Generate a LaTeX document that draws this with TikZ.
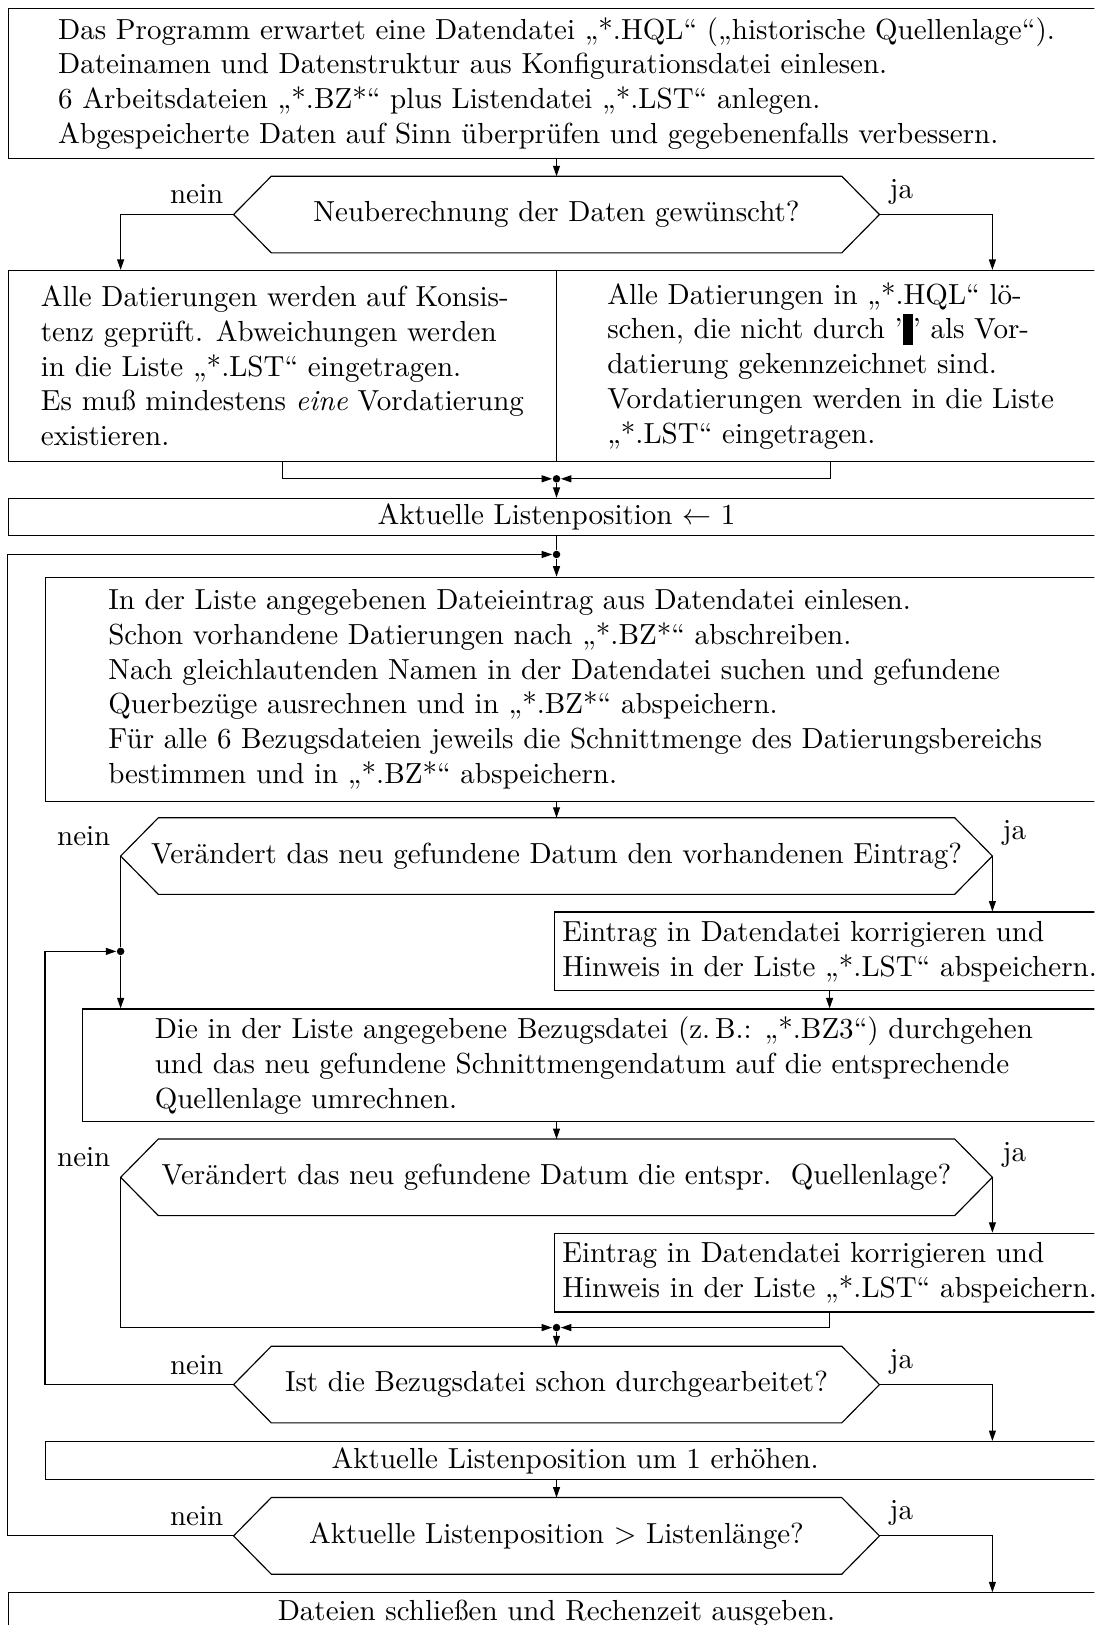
\documentclass[tikz,border=0pt]{standalone}
\usepackage{tikz}
\usetikzlibrary{arrows.meta}

\tikzset{
  kasten/.style={draw, rectangle, inner sep=0pt, align=left},
  frage/.style={rectangle, minimum height=26pt, inner ysep=0pt, inner xsep=-20pt},
  punkt/.style={circle, fill, inner sep=0pt, minimum size=2.6pt},
  pfeil/.style={-{Triangle[length=3.6pt,width=2.4pt]}}
}

\begin{document}
\begin{tikzpicture}[x=0.357pt, y=-0.357pt]

                \useasboundingbox (0,0) rectangle (1056,1568);
                \clip (0,0) rectangle (1056,1568);

                \node[kasten, minimum width=377.7pt, minimum height=51.8pt] (top) at (537,80.5)
                  {Das Programm erwartet eine Datendatei „*.HQL“ („historische Quellenlage“).\\
                   Dateinamen und Datenstruktur aus Konfigurationsdatei einlesen.\\
                   6 Arbeitsdateien „*.BZ*“ plus Listendatei „*.LST“ anlegen.\\
                   Abgespeicherte Daten auf Sinn überprüfen und gegebenenfalls verbessern.};

                \node[frage, minimum width=196.1pt] (h1) at (537,207) {Neuberechnung der Daten gewünscht?};

                \node[kasten, minimum width=188.9pt, minimum height=65.7pt] (lb) at (272.5,353)
                  {Alle Datierungen werden auf Konsis-\\
                   tenz geprüft. Abweichungen werden\\
                   in die Liste „*.LST“ eingetragen.\\
                   Es muß mindestens \emph{eine} Vordatierung\\
                   existieren.};
                \node[kasten, minimum width=188.9pt, minimum height=65.7pt] (rb) at (801.5,353)
                  {Alle Datierungen in „*.HQL“ lö-\\
                   schen, die nicht durch '\rule[-2pt]{3.5pt}{10.5pt}' als Vor-\\
                   datierung gekennzeichnet sind.\\
                   Vordatierungen werden in die Liste\\
                   „*.LST“ eingetragen.};

                \node[punkt] (m1) at (537,462) {};
                \node[kasten, minimum width=377.7pt, minimum height=12.9pt] (pos) at (537,499)
                  {Aktuelle Listenposition $\leftarrow$ 1};
                \node[punkt] (m2) at (537,535) {};

                \node[kasten, minimum width=364.9pt, minimum height=77.1pt] (big) at (555,665)
                  {In der Liste angegebenen Dateieintrag aus Datendatei einlesen.\\
                   Schon vorhandene Datierungen nach „*.BZ*“ abschreiben.\\
                   Nach gleichlautenden Namen in der Datendatei suchen und gefundene\\
                   Querbezüge ausrechnen und in „*.BZ*“ abspeichern.\\
                   Für alle 6 Bezugsdateien jeweils die Schnittmenge des Datierungsbereichs\\
                   bestimmen und in „*.BZ*“ abspeichern.};

                \node[frage, minimum width=273.9pt] (h2) at (537,826)
                  {Verändert das neu gefundene Datum den vorhandenen Eintrag?};
                \node[kasten, minimum width=189.6pt, minimum height=27.1pt] (e1) at (800.5,918)
                  {Eintrag in Datendatei korrigieren und\\
                   Hinweis in der Liste „*.LST“ abspeichern.};

                \node[kasten, minimum width=352pt, minimum height=38.9pt] (bz) at (573,1028)
                  {Die in der Liste angegebene Bezugsdatei (z.\,B.: „*.BZ3“) durchgehen\\
                   und das neu gefundene Schnittmengendatum auf die entsprechende\\
                   Quellenlage umrechnen.};

                \node[frage, minimum width=273.9pt] (h3) at (537,1136)
                  {Verändert das neu gefundene Datum die entspr.\ \ Quellenlage?};
                \node[kasten, minimum width=189.6pt, minimum height=27.1pt] (e2) at (800.5,1228)
                  {Eintrag in Datendatei korrigieren und\\
                   Hinweis in der Liste „*.LST“ abspeichern.};
                \node[punkt] (m4) at (537,1281) {};

                \node[frage, minimum width=196.1pt] (h4) at (537,1336) {Ist die Bezugsdatei schon durchgearbeitet?};
                \node[kasten, minimum width=364.9pt, minimum height=13.2pt] (inc) at (555,1409.5)
                  {Aktuelle Listenposition um 1 erhöhen.};
                \node[frage, minimum width=196.1pt] (h5) at (537,1482) {Aktuelle Listenposition $>$ Listenlänge?};
                \node[kasten, minimum width=377.7pt, minimum height=14.3pt] (fin) at (537,1557)
                  {Dateien schließen und Rechenzeit ausgeben.};

                \foreach \h in {1,...,5} {
                  \coordinate (tl\h) at ([xshift=-13pt]h\h.west);
                  \coordinate (tr\h) at ([xshift=13pt]h\h.east);
                  \draw (h\h.north west) -- (h\h.north east) -- (tr\h) -- (h\h.south east)
                    -- (h\h.south west) -- (tl\h) -- cycle;
                  \node[above left] (nein\h) at (tl\h) {nein};
                  \node[above right] (ja\h) at (tr\h) {ja};
                }
                \node[punkt] (m3) at (tl2 |- e1) {};

                \draw[pfeil] (h1.north |- top.south) -- (h1.north);
                \draw[pfeil] (tl1) -| (tl2 |- lb.north);
                \draw[pfeil] (tr1) -| (tr2 |- rb.north);
                \draw[pfeil] (lb.south) |- (m1);
                \draw[pfeil] (rb.south) |- (m1);
                \draw[pfeil] (m1) -- (m1 |- pos.north);
                \draw (pos.south) -- (m2);
                \draw[pfeil] (tl5) -- (top.west |- tl5) |- (m2);
                \draw[pfeil] (m2) -- (m2 |- big.north);

                \draw[pfeil] (h2.north |- big.south) -- (h2.north);
                \draw[pfeil] (tr2) -- (tr2 |- e1.north);
                \draw[pfeil] (e1.south) -- (e1.south |- bz.north);
                \draw (tl2) -- (m3);
                \draw[pfeil] (m3) -- (m3 |- bz.north);
                \draw[pfeil] (tl4) -- (big.west |- tl4) |- (m3);

                \draw[pfeil] (h3.north |- bz.south) -- (h3.north);
                \draw[pfeil] (tr3) -- (tr3 |- e2.north);
                \draw[pfeil] (tl3) |- (m4);
                \draw[pfeil] (e2.south) |- (m4);
                \draw[pfeil] (m4) -- (h4.north);

                \draw[pfeil] (tr4) -| (tr2 |- inc.north);
                \draw[pfeil] (h5.north |- inc.south) -- (h5.north);
                \draw[pfeil] (tr5) -| (tr2 |- fin.north);

            \end{tikzpicture}
\end{document}
